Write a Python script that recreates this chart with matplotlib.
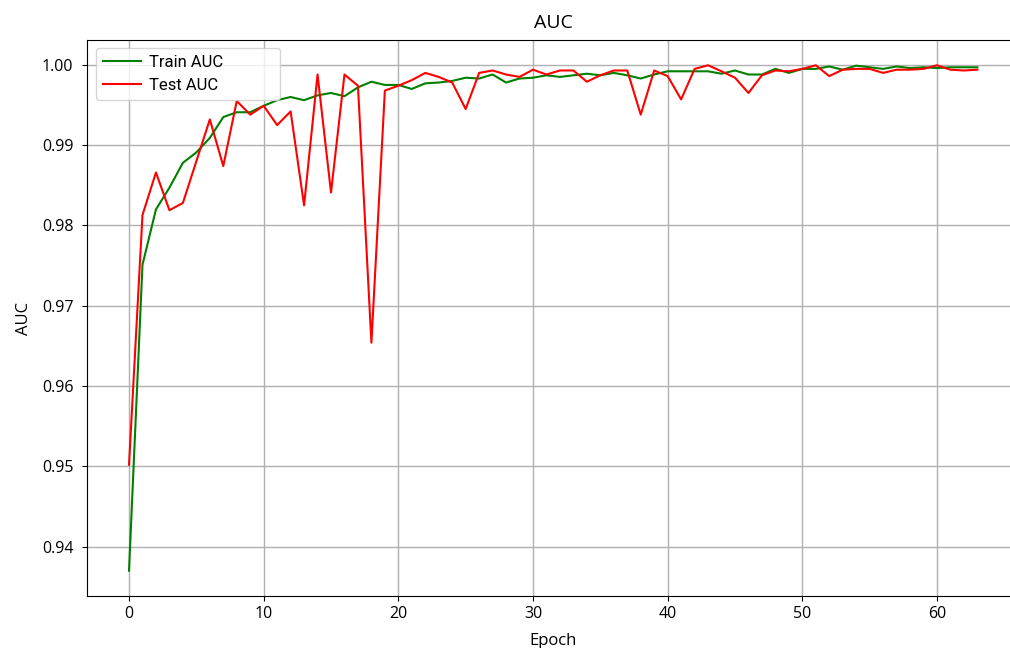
import matplotlib
matplotlib.use("Agg")
import matplotlib.pyplot as plt
import numpy as np

plt.rcParams['font.family'] = ['Open Sans', 'DejaVu Sans']

epochs = list(range(64))
train_auc = [0.9370, 0.9751, 0.9820, 0.9847, 0.9878, 0.9891, 0.9909, 0.9935, 0.9941, 0.9941,
             0.9949, 0.9956, 0.9960, 0.9956, 0.9962, 0.9965, 0.9961, 0.9972, 0.9979, 0.9975,
             0.9975, 0.9970, 0.9977, 0.9978, 0.9980, 0.9984, 0.9983, 0.9988, 0.9978, 0.9983,
             0.9984, 0.9987, 0.9985, 0.9987, 0.9989, 0.9987, 0.9990, 0.9987, 0.9983, 0.9988,
             0.9992, 0.9992, 0.9992, 0.9992, 0.9989, 0.9993, 0.9988, 0.9988, 0.9995, 0.9990,
             0.9995, 0.9995, 0.9998, 0.9994, 0.9999, 0.9997, 0.9995, 0.9998, 0.9996, 0.9997,
             0.9996, 0.9997, 0.9997, 0.9997]
test_auc = [0.9502, 0.9813, 0.9866, 0.9819, 0.9828, 0.9880, 0.9932, 0.9874, 0.9955, 0.9938,
            0.9949, 0.9925, 0.9942, 0.9825, 0.9988, 0.9841, 0.9988, 0.9974, 0.9654, 0.9968,
            0.9974, 0.9981, 0.9990, 0.9985, 0.9978, 0.9945, 0.9990, 0.9993, 0.9988, 0.9985,
            0.9994, 0.9988, 0.9993, 0.9993, 0.9979, 0.9987, 0.9993, 0.9993, 0.9938, 0.9993,
            0.9986, 0.9957, 0.9995, 0.99995, 0.9992, 0.9984, 0.9965, 0.9987, 0.9993, 0.9992,
            0.9995, 0.99995, 0.9986, 0.9994, 0.9995, 0.9995, 0.9990, 0.9994, 0.9994, 0.9995,
            0.99995, 0.9994, 0.9993, 0.9994]

W, H = 1010, 648
fig = plt.figure(figsize=(W / 100, H / 100), dpi=100)
ax_l, ax_r, ax_t, ax_b = 86.6, 1019.8, 40, 596
ax = fig.add_axes([ax_l / W, 1 - ax_b / H, (ax_r - ax_l) / W, (ax_b - ax_t) / H])
ax.plot(epochs, train_auc, color='green', label='Train AUC')
ax.plot(epochs, test_auc, color='red', label='Test AUC')
ax.set_title('AUC', fontsize=14, pad=9)
ax.set_xlabel('Epoch', fontsize=12, labelpad=8)
ax.set_ylabel('AUC', fontsize=12, labelpad=7)
ax.grid(True, color='#b0b0b0', linewidth=1)
ax.tick_params(axis='both', labelsize=11.5)
ax.tick_params(axis='y', pad=6)

# legend frame spans roughly x 96..280 px, top at 48 px
lx0 = (96 - ax_l) / (ax_r - ax_l)
lw = (280 - 96) / (ax_r - ax_l)
ly1 = 1 - (48 - ax_t) / (ax_b - ax_t)
ax.legend(loc='upper left', bbox_to_anchor=(lx0, ly1 - 0.2, lw, 0.2), mode='expand',
          borderaxespad=0, prop={'family': ['Roboto', 'DejaVu Sans'], 'size': 12},
          handlelength=2.3, handletextpad=0.5)
fig.savefig('out.png', dpi=100)
